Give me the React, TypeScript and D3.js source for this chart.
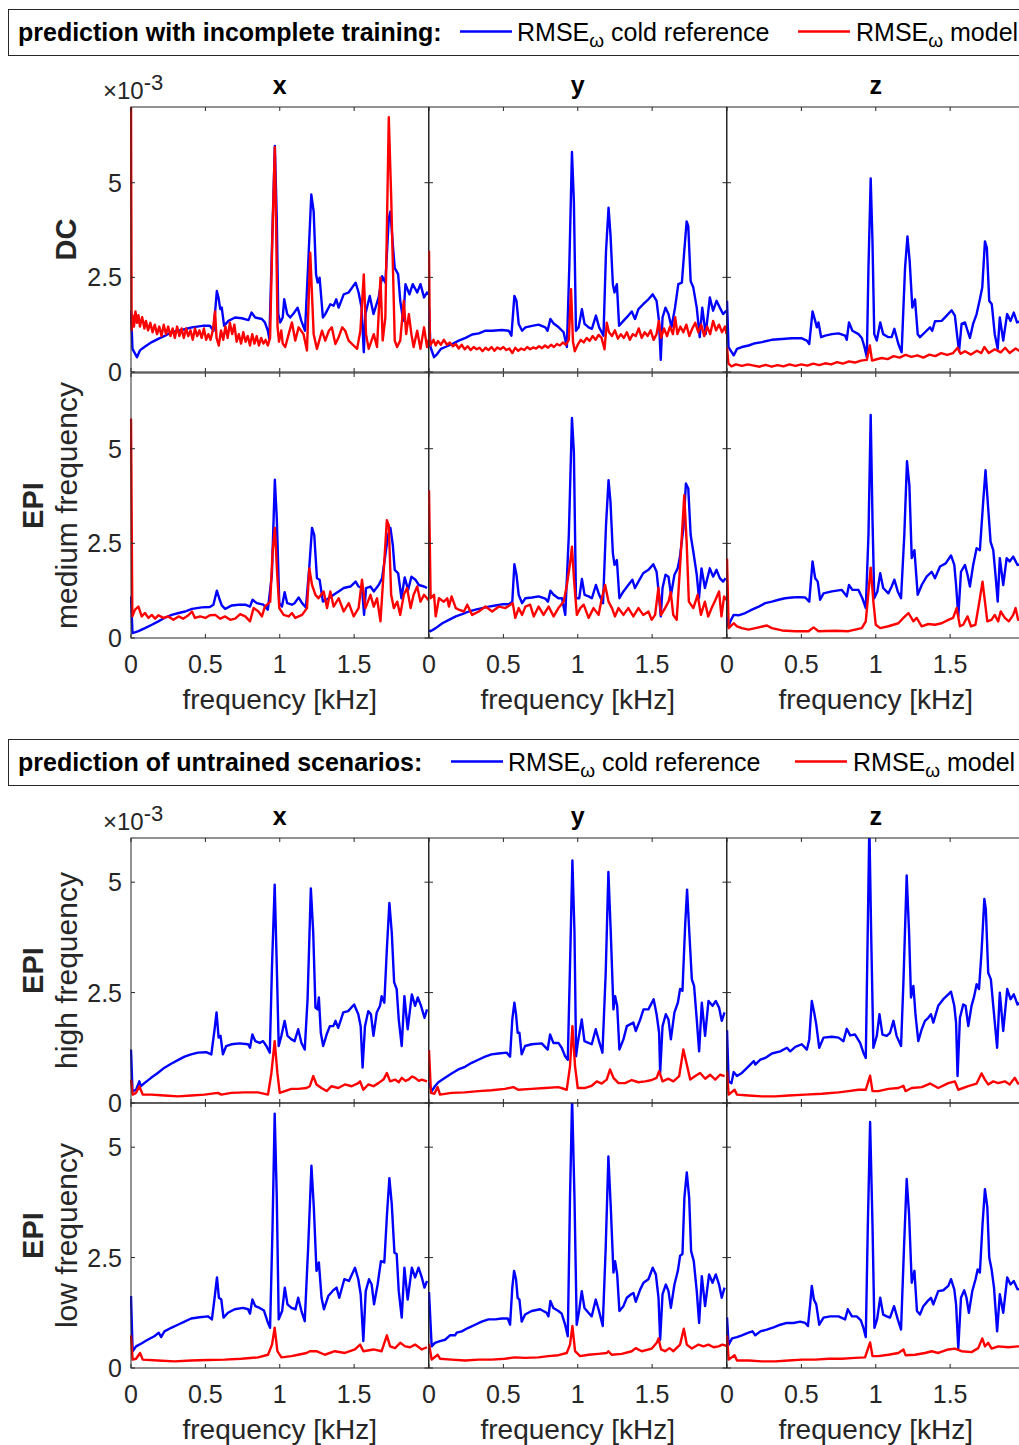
import React from "react";
import * as d3 from "d3";

type Pt = [number, number];

// ---------- labels ----------
const columnTitles = ["x", "y", "z"];
const rowLabelsBold = ["DC", "EPI", "EPI", "EPI"];
const rowLabelsSub = ["", "medium frequency", "high frequency", "low frequency"];
const freqTicks = [0, 0.5, 1, 1.5, 2];
const freqTickLabels = ["0", "0.5", "1", "1.5"];
const rmseTicks = [0, 2.5, 5];
const rmseTickLabels = ["0", "2.5", "5"];
const legendTitles = ["prediction with incomplete training:", "prediction of untrained scenarios:"];
const seriesNames = ["cold reference", "model"];
const xLabel = "frequency [kHz]";
const freqDomain: [number, number] = [0, 2];
const rmseMaxTop = 7; // x10^-3
const rmseMaxBottom = 6; // x10^-3

// ---------- data (RMSE in units of 1e-3, frequency in kHz) ----------
// DC, x
const dcXCold: Pt[] = [[0,1.62],[0.01,0.61],[0.04,0.39],[0.06,0.57],[0.09,0.66],[0.14,0.79],[0.18,0.87],[0.23,0.96],[0.27,1.05],[0.34,1.11],[0.41,1.18],[0.48,1.22],[0.53,1.22],[0.555,1.09],[0.577,2.14],[0.588,1.97],[0.6,1.66],[0.61,1.7],[0.626,1.22],[0.655,1.35],[0.7,1.44],[0.745,1.42],[0.79,1.37],[0.81,1.57],[0.835,1.44],[0.88,1.4],[0.9,1.31],[0.92,1.09],[0.93,0.87],[0.947,3.19],[0.967,5.97],[0.98,4.06],[0.99,1.53],[1.003,1.31],[1.02,1.44],[1.03,1.92],[1.05,1.53],[1.07,1.44],[1.09,1.53],[1.12,1.7],[1.145,1.35],[1.17,1.09],[1.19,2.75],[1.212,4.69],[1.228,4.24],[1.244,2.58],[1.255,2.36],[1.268,2.49],[1.29,1.44],[1.306,1.53],[1.34,1.79],[1.362,1.75],[1.38,1.92],[1.396,1.7],[1.43,2.05],[1.463,2.1],[1.51,2.36],[1.53,2.1],[1.55,1.7],[1.565,0.52],[1.576,1.53],[1.605,2.01],[1.63,1.53],[1.665,1.97],[1.688,2.53],[1.71,2.36],[1.733,4.06],[1.744,4.24],[1.76,3.37],[1.773,2.75],[1.796,2.58],[1.81,1.88],[1.83,1.35],[1.845,2.32],[1.872,2.05],[1.894,2.32],[1.924,2.1],[1.946,2.32],[1.97,1.97],[1.99,2.1],[2.0,2.05]];
const dcXModel: Pt[] = [[0,7.3],[0.004,1.1],[0.01,1.5],[0.02,1.2],[0.03,1.6],[0.04,1.3],[0.05,1.5],[0.06,1.2],[0.075,1.45],[0.09,1.15],[0.1,1.35],[0.115,1.1],[0.13,1.3],[0.145,1.05],[0.16,1.25],[0.175,1.0],[0.19,1.2],[0.205,0.95],[0.22,1.25],[0.235,1.0],[0.25,1.2],[0.265,0.95],[0.28,1.15],[0.295,0.9],[0.31,1.2],[0.325,0.95],[0.34,1.15],[0.355,0.9],[0.37,1.15],[0.385,0.95],[0.4,1.1],[0.415,0.85],[0.43,1.15],[0.445,0.95],[0.46,1.1],[0.475,0.9],[0.49,1.15],[0.505,0.85],[0.52,1.0],[0.535,0.85],[0.55,1.1],[0.565,1.6],[0.575,0.9],[0.59,0.7],[0.605,1.1],[0.62,0.85],[0.635,1.2],[0.65,0.9],[0.665,1.3],[0.68,1.0],[0.695,1.25],[0.71,0.8],[0.725,1.0],[0.74,0.75],[0.755,1.05],[0.77,0.8],[0.785,0.95],[0.8,0.7],[0.815,1.0],[0.83,0.75],[0.845,0.95],[0.86,0.7],[0.875,0.9],[0.89,0.75],[0.905,0.85],[0.92,0.7],[0.935,0.9],[0.95,3.5],[0.967,5.94],[0.975,4.0],[0.985,1.2],[0.995,0.8],[1.01,1.1],[1.02,0.75],[1.037,0.66],[1.06,1.0],[1.082,1.31],[1.104,0.83],[1.127,1.18],[1.16,1.0],[1.183,0.57],[1.205,3.15],[1.228,1.0],[1.25,0.61],[1.284,1.09],[1.306,0.83],[1.33,1.09],[1.35,1.18],[1.374,0.74],[1.396,0.92],[1.42,1.18],[1.44,1.09],[1.463,0.83],[1.486,0.74],[1.52,0.61],[1.542,1.09],[1.565,2.58],[1.58,1.0],[1.598,0.61],[1.632,1.0],[1.654,0.66],[1.677,2.49],[1.692,0.83],[1.71,1.44],[1.733,6.73],[1.75,4.5],[1.773,0.83],[1.789,0.66],[1.81,0.83],[1.834,1.88],[1.85,1.0],[1.868,1.53],[1.885,1.0],[1.9,0.66],[1.924,1.09],[1.946,0.61],[1.97,1.18],[1.99,0.66],[2.0,0.85]];

// DC, y
const dcYCold: Pt[] = [[0,1.7],[0.01,0.66],[0.034,0.39],[0.056,0.48],[0.08,0.61],[0.11,0.66],[0.156,0.74],[0.2,0.83],[0.246,0.9],[0.29,0.99],[0.335,1.02],[0.38,1.09],[0.425,1.09],[0.49,1.11],[0.536,1.09],[0.554,0.96],[0.574,2.01],[0.588,1.88],[0.603,1.27],[0.626,1.09],[0.648,1.18],[0.693,1.22],[0.737,1.25],[0.782,1.18],[0.797,1.09],[0.816,1.4],[0.838,1.28],[0.872,1.18],[0.905,1.05],[0.927,0.66],[0.943,2.75],[0.961,5.81],[0.974,4.5],[0.988,1.09],[1.006,1.18],[1.028,1.66],[1.046,1.27],[1.073,1.18],[1.095,1.14],[1.122,1.49],[1.144,1.18],[1.173,0.96],[1.19,3.19],[1.207,4.34],[1.22,3.63],[1.236,2.32],[1.247,2.1],[1.263,2.32],[1.278,1.22],[1.307,1.35],[1.34,1.49],[1.363,1.6],[1.385,1.4],[1.408,1.66],[1.44,1.79],[1.475,1.92],[1.504,2.05],[1.53,1.88],[1.546,1.35],[1.558,0.32],[1.57,1.44],[1.59,1.7],[1.61,1.53],[1.63,1.18],[1.654,1.7],[1.676,2.32],[1.7,2.36],[1.716,3.19],[1.732,3.98],[1.743,3.85],[1.759,2.4],[1.777,2.23],[1.8,1.7],[1.82,0.92],[1.837,1.7],[1.86,1.0],[1.888,1.97],[1.91,1.62],[1.933,1.88],[1.955,1.7],[1.977,1.53],[2.0,1.62]];
const dcYModel: Pt[] = [[0,3.2],[0.006,0.7],[0.015,0.75],[0.03,0.85],[0.045,0.7],[0.06,0.82],[0.08,0.72],[0.1,0.85],[0.12,0.72],[0.14,0.78],[0.16,0.68],[0.18,0.74],[0.2,0.62],[0.22,0.72],[0.24,0.6],[0.26,0.68],[0.28,0.58],[0.3,0.66],[0.32,0.6],[0.34,0.64],[0.36,0.55],[0.38,0.64],[0.4,0.58],[0.42,0.66],[0.44,0.56],[0.46,0.65],[0.48,0.6],[0.5,0.66],[0.52,0.58],[0.54,0.62],[0.56,0.5],[0.58,0.64],[0.6,0.56],[0.62,0.62],[0.64,0.58],[0.66,0.66],[0.68,0.6],[0.7,0.65],[0.72,0.62],[0.74,0.68],[0.76,0.63],[0.78,0.7],[0.8,0.64],[0.82,0.72],[0.84,0.66],[0.86,0.74],[0.88,0.7],[0.9,0.78],[0.92,0.72],[0.94,0.85],[0.955,2.19],[0.968,0.8],[0.98,0.55],[1.0,0.72],[1.02,0.85],[1.04,0.78],[1.06,0.9],[1.08,0.82],[1.1,0.95],[1.12,0.85],[1.14,0.98],[1.16,0.9],[1.18,0.6],[1.195,1.3],[1.21,1.05],[1.23,0.95],[1.25,1.1],[1.27,0.88],[1.29,1.0],[1.31,0.9],[1.33,1.05],[1.35,0.85],[1.37,1.0],[1.39,0.95],[1.41,1.15],[1.43,0.9],[1.45,1.05],[1.47,0.95],[1.49,1.1],[1.51,0.85],[1.53,1.0],[1.545,1.35],[1.56,0.9],[1.58,1.15],[1.6,0.95],[1.62,1.2],[1.64,1.0],[1.655,1.45],[1.67,1.0],[1.69,1.2],[1.71,1.05],[1.73,1.25],[1.75,0.95],[1.77,1.15],[1.79,1.3],[1.81,1.05],[1.83,1.25],[1.85,0.95],[1.87,1.2],[1.89,1.0],[1.91,1.35],[1.93,1.1],[1.95,1.25],[1.97,1.05],[1.99,1.2],[2.0,1.0]];

// DC, z
const dcZCold: Pt[] = [[0,1.88],[0.01,0.66],[0.045,0.44],[0.067,0.61],[0.1,0.66],[0.145,0.7],[0.19,0.76],[0.235,0.79],[0.3,0.85],[0.37,0.87],[0.436,0.89],[0.503,0.89],[0.537,0.83],[0.553,0.74],[0.575,1.6],[0.593,1.35],[0.604,1.18],[0.615,1.31],[0.633,0.92],[0.66,0.96],[0.705,1.0],[0.75,1.02],[0.794,0.96],[0.805,0.85],[0.82,1.31],[0.843,1.09],[0.884,1.0],[0.906,0.9],[0.924,0.66],[0.94,0.39],[0.951,2.75],[0.966,5.11],[0.978,3.45],[0.99,1.0],[1.007,0.83],[1.03,1.31],[1.05,1.0],[1.085,0.92],[1.107,0.92],[1.125,1.14],[1.152,0.74],[1.174,0.52],[1.197,2.75],[1.213,3.58],[1.228,2.93],[1.246,1.7],[1.264,1.92],[1.282,1.0],[1.298,0.92],[1.331,1.05],[1.365,1.18],[1.38,1.09],[1.398,1.34],[1.443,1.35],[1.477,1.49],[1.51,1.63],[1.532,1.49],[1.546,1.0],[1.56,0.55],[1.577,1.27],[1.6,1.31],[1.617,1.09],[1.633,0.9],[1.655,1.28],[1.678,1.53],[1.7,1.92],[1.716,2.23],[1.734,3.45],[1.747,3.28],[1.763,1.88],[1.78,1.79],[1.8,1.0],[1.82,0.61],[1.834,1.44],[1.857,0.83],[1.883,1.53],[1.906,1.35],[1.928,1.57],[1.95,1.31],[1.98,1.35],[2.0,1.4]];
const dcZModel: Pt[] = [[0,0.65],[0.01,0.22],[0.03,0.15],[0.06,0.2],[0.1,0.16],[0.14,0.2],[0.18,0.17],[0.22,0.14],[0.26,0.19],[0.3,0.14],[0.34,0.18],[0.38,0.15],[0.42,0.2],[0.46,0.16],[0.5,0.2],[0.54,0.17],[0.58,0.22],[0.62,0.18],[0.66,0.23],[0.7,0.2],[0.74,0.26],[0.78,0.22],[0.82,0.28],[0.86,0.25],[0.9,0.3],[0.94,0.32],[0.96,0.7],[0.975,0.3],[1.0,0.33],[1.04,0.37],[1.08,0.34],[1.12,0.42],[1.16,0.38],[1.2,0.45],[1.24,0.4],[1.28,0.44],[1.32,0.38],[1.36,0.46],[1.4,0.42],[1.44,0.5],[1.48,0.45],[1.52,0.5],[1.55,0.64],[1.57,0.48],[1.6,0.55],[1.64,0.46],[1.68,0.56],[1.71,0.5],[1.73,0.66],[1.76,0.5],[1.8,0.6],[1.84,0.52],[1.87,0.64],[1.9,0.5],[1.94,0.62],[1.97,0.55],[2.0,0.6]];

// EPI medium frequency, x
const epiMedXCold: Pt[] = [[0,1.1],[0.01,0.13],[0.05,0.18],[0.094,0.26],[0.14,0.35],[0.184,0.44],[0.23,0.54],[0.274,0.61],[0.32,0.66],[0.364,0.7],[0.41,0.77],[0.476,0.81],[0.53,0.82],[0.554,0.88],[0.577,1.25],[0.593,1.05],[0.61,0.86],[0.633,0.77],[0.678,0.86],[0.723,0.88],[0.768,0.88],[0.8,0.83],[0.817,1.01],[0.846,0.92],[0.89,0.88],[0.92,0.75],[0.947,1.67],[0.967,4.18],[0.98,3.16],[0.997,0.92],[1.015,0.83],[1.033,1.21],[1.05,0.92],[1.082,0.88],[1.1,0.92],[1.127,1.07],[1.15,0.92],[1.176,0.81],[1.198,1.84],[1.217,2.91],[1.232,2.72],[1.25,1.58],[1.268,1.54],[1.29,0.96],[1.33,1.05],[1.362,1.14],[1.396,1.23],[1.43,1.32],[1.475,1.36],[1.51,1.49],[1.53,1.36],[1.553,1.32],[1.567,0.61],[1.58,1.32],[1.61,1.36],[1.632,1.23],[1.665,1.4],[1.688,1.58],[1.71,2.19],[1.728,2.72],[1.744,2.91],[1.76,2.46],[1.773,1.8],[1.796,1.71],[1.818,1.05],[1.84,1.6],[1.863,1.27],[1.885,1.62],[1.912,1.54],[1.935,1.4],[1.97,1.36],[1.99,1.32]];
const epiMedXModel: Pt[] = [[0,5.8],[0.009,0.57],[0.027,0.75],[0.05,0.83],[0.072,0.57],[0.094,0.66],[0.117,0.53],[0.14,0.61],[0.162,0.51],[0.184,0.6],[0.218,0.53],[0.25,0.57],[0.285,0.48],[0.32,0.57],[0.35,0.51],[0.386,0.6],[0.41,0.7],[0.43,0.53],[0.465,0.57],[0.5,0.53],[0.53,0.6],[0.566,0.61],[0.6,0.51],[0.633,0.57],[0.667,0.48],[0.7,0.51],[0.734,0.63],[0.768,0.57],[0.8,0.44],[0.824,0.79],[0.857,0.7],[0.88,0.57],[0.9,0.83],[0.936,0.96],[0.952,2.28],[0.967,2.91],[0.983,1.67],[0.997,0.79],[1.026,0.61],[1.06,0.57],[1.082,0.66],[1.104,0.53],[1.15,0.61],[1.183,0.79],[1.199,1.84],[1.217,1.4],[1.24,1.14],[1.26,1.05],[1.295,1.23],[1.318,0.79],[1.34,1.23],[1.362,0.83],[1.396,1.05],[1.43,0.7],[1.464,0.92],[1.497,0.57],[1.53,0.79],[1.553,1.54],[1.576,0.79],[1.61,1.14],[1.632,0.83],[1.654,1.05],[1.677,0.44],[1.7,1.84],[1.72,3.11],[1.733,2.98],[1.749,1.14],[1.767,0.79],[1.79,0.96],[1.81,0.61],[1.834,1.14],[1.856,1.32],[1.88,0.79],[1.9,1.14],[1.924,1.36],[1.946,0.96],[1.97,1.14],[1.99,1.05],[2.0,1.0]];

// EPI medium frequency, y
const epiMedYCold: Pt[] = [[0,0.2],[0.01,0.18],[0.045,0.26],[0.09,0.39],[0.134,0.48],[0.18,0.57],[0.223,0.63],[0.268,0.7],[0.313,0.75],[0.357,0.79],[0.402,0.83],[0.447,0.86],[0.49,0.89],[0.536,0.89],[0.56,0.96],[0.574,1.95],[0.588,1.67],[0.603,1.14],[0.626,0.92],[0.648,1.05],[0.693,1.07],[0.737,1.1],[0.782,1.04],[0.8,0.96],[0.816,1.25],[0.838,1.14],[0.87,1.05],[0.894,1.05],[0.916,0.61],[0.94,2.72],[0.961,5.81],[0.974,4.91],[0.988,1.05],[1.01,1.05],[1.028,1.56],[1.046,1.14],[1.073,1.1],[1.095,1.05],[1.122,1.4],[1.144,1.14],[1.17,0.92],[1.19,2.98],[1.207,4.17],[1.22,3.6],[1.236,2.24],[1.247,1.93],[1.263,2.06],[1.28,1.05],[1.307,1.23],[1.34,1.4],[1.367,1.54],[1.385,1.32],[1.408,1.49],[1.44,1.71],[1.475,1.8],[1.508,1.95],[1.53,1.75],[1.546,1.14],[1.558,0.57],[1.57,1.32],[1.59,1.67],[1.61,1.62],[1.627,1.14],[1.65,1.67],[1.672,1.84],[1.687,2.15],[1.71,2.89],[1.727,4.08],[1.743,3.95],[1.759,2.72],[1.777,2.28],[1.8,1.67],[1.815,1.05],[1.832,1.84],[1.855,1.32],[1.888,1.84],[1.91,1.62],[1.933,1.8],[1.955,1.58],[1.977,1.49],[1.994,1.58]];
const epiMedYModel: Pt[] = [[0,3.9],[0.011,1.05],[0.034,1.14],[0.045,0.57],[0.067,1.05],[0.1,0.96],[0.123,1.05],[0.134,0.83],[0.152,1.1],[0.18,0.79],[0.2,0.75],[0.235,0.7],[0.257,0.88],[0.29,0.61],[0.335,0.7],[0.38,0.83],[0.425,0.7],[0.47,0.83],[0.514,0.79],[0.563,0.92],[0.58,0.53],[0.603,0.79],[0.626,0.61],[0.648,0.83],[0.68,0.88],[0.704,0.57],[0.737,0.83],[0.77,0.61],[0.804,0.83],[0.838,0.57],[0.87,0.79],[0.905,0.96],[0.927,1.4],[0.95,2.02],[0.961,2.41],[0.976,1.49],[0.994,0.61],[1.017,0.79],[1.04,0.88],[1.073,0.53],[1.106,0.79],[1.14,0.61],[1.162,1.05],[1.184,1.4],[1.207,0.96],[1.23,0.79],[1.25,0.57],[1.274,0.79],[1.307,0.61],[1.34,0.79],[1.374,0.57],[1.408,0.79],[1.44,0.61],[1.475,0.7],[1.497,0.48],[1.52,0.61],[1.542,1.32],[1.56,0.61],[1.587,0.79],[1.61,0.96],[1.625,1.21],[1.642,0.61],[1.665,0.48],[1.687,1.84],[1.716,3.77],[1.732,2.54],[1.747,0.96],[1.777,0.79],[1.806,1.14],[1.828,0.61],[1.855,0.96],[1.877,0.57],[1.9,0.79],[1.92,0.96],[1.95,1.23],[1.966,0.57],[1.984,1.1],[2.0,1.0]];

// EPI medium frequency, z
const epiMedZCold: Pt[] = [[0,0.55],[0.01,0.3],[0.022,0.44],[0.045,0.61],[0.078,0.6],[0.123,0.66],[0.168,0.75],[0.213,0.83],[0.257,0.92],[0.302,0.96],[0.347,1.01],[0.39,1.05],[0.436,1.07],[0.48,1.08],[0.526,1.07],[0.553,0.96],[0.575,2.02],[0.593,1.58],[0.61,1.49],[0.626,1.01],[0.649,1.18],[0.705,1.23],[0.772,1.27],[0.805,1.1],[0.82,1.4],[0.843,1.27],[0.884,1.27],[0.91,1.05],[0.933,0.79],[0.951,2.72],[0.966,5.89],[0.978,3.16],[0.99,1.05],[1.011,1.23],[1.03,1.71],[1.05,1.32],[1.085,1.18],[1.107,1.36],[1.125,1.54],[1.148,1.23],[1.17,1.05],[1.192,2.72],[1.21,4.67],[1.226,4.04],[1.242,2.11],[1.26,2.32],[1.282,1.14],[1.309,1.4],[1.342,1.62],[1.376,1.75],[1.398,1.58],[1.432,1.89],[1.47,1.97],[1.506,2.18],[1.528,1.93],[1.54,1.4],[1.555,0.57],[1.573,1.75],[1.6,1.93],[1.617,1.67],[1.633,1.36],[1.655,1.93],[1.678,2.37],[1.7,2.32],[1.723,3.64],[1.738,4.43],[1.756,3.42],[1.772,2.54],[1.79,2.32],[1.805,1.67],[1.82,0.96],[1.834,2.11],[1.857,1.4],[1.88,2.11],[1.9,2.02],[1.924,2.15],[1.953,1.93],[1.98,1.95],[2.0,1.9]];
const epiMedZModel: Pt[] = [[0,2.1],[0.011,0.26],[0.045,0.39],[0.067,0.31],[0.1,0.26],[0.145,0.22],[0.19,0.26],[0.246,0.31],[0.268,0.33],[0.302,0.26],[0.37,0.2],[0.459,0.18],[0.548,0.18],[0.582,0.28],[0.615,0.18],[0.727,0.19],[0.817,0.18],[0.906,0.26],[0.933,0.44],[0.966,1.86],[0.984,0.96],[1.0,0.35],[1.03,0.26],[1.085,0.31],[1.152,0.39],[1.186,0.53],[1.22,0.66],[1.253,0.44],[1.275,0.53],[1.309,0.31],[1.353,0.37],[1.398,0.35],[1.443,0.39],[1.488,0.48],[1.52,0.53],[1.544,0.79],[1.566,0.31],[1.588,0.35],[1.617,0.57],[1.64,0.31],[1.67,0.35],[1.693,0.88],[1.718,1.49],[1.734,0.96],[1.75,0.44],[1.778,0.48],[1.8,0.61],[1.823,0.44],[1.84,0.7],[1.868,0.53],[1.895,0.44],[1.924,0.61],[1.94,0.79],[1.957,0.48],[2.0,0.55]];

// EPI high frequency, x
const epiHighXCold: Pt[] = [[0,1.21],[0.01,0.27],[0.034,0.3],[0.056,0.49],[0.067,0.38],[0.09,0.45],[0.135,0.57],[0.18,0.68],[0.225,0.8],[0.27,0.89],[0.315,0.97],[0.36,1.05],[0.404,1.1],[0.45,1.14],[0.506,1.15],[0.54,1.1],[0.562,1.67],[0.575,2.05],[0.589,1.48],[0.602,1.52],[0.618,1.1],[0.64,1.29],[0.674,1.33],[0.73,1.35],[0.787,1.33],[0.8,1.25],[0.816,1.55],[0.836,1.4],[0.865,1.36],[0.888,1.4],[0.91,1.29],[0.933,1.14],[0.948,3.11],[0.966,4.94],[0.98,3.11],[0.993,1.29],[1.011,1.52],[1.033,1.86],[1.052,1.52],[1.079,1.44],[1.1,1.4],[1.124,1.67],[1.146,1.36],[1.168,1.21],[1.187,2.35],[1.209,4.86],[1.225,3.86],[1.24,2.16],[1.254,2.12],[1.263,2.39],[1.276,1.59],[1.292,1.29],[1.315,1.55],[1.337,1.74],[1.36,1.74],[1.375,1.86],[1.393,1.7],[1.427,2.05],[1.46,2.08],[1.5,2.23],[1.528,2.01],[1.544,1.74],[1.557,0.8],[1.573,1.74],[1.595,2.08],[1.613,2.01],[1.63,1.52],[1.652,2.05],[1.674,2.2],[1.685,2.42],[1.703,2.27],[1.72,3.48],[1.737,4.53],[1.753,3.86],[1.769,2.73],[1.786,2.58],[1.8,1.89],[1.82,1.29],[1.838,2.42],[1.86,1.67],[1.888,2.46],[1.91,2.2],[1.928,2.39],[1.95,2.2],[1.973,1.93],[1.99,2.12]];
const epiHighXModel: Pt[] = [[0,0.53],[0.011,0.19],[0.034,0.23],[0.056,0.38],[0.079,0.19],[0.135,0.19],[0.225,0.17],[0.315,0.15],[0.404,0.17],[0.494,0.19],[0.584,0.23],[0.607,0.19],[0.674,0.23],[0.764,0.24],[0.854,0.24],[0.921,0.19],[0.944,0.68],[0.966,1.4],[0.984,0.68],[1.0,0.23],[1.034,0.27],[1.079,0.32],[1.124,0.32],[1.18,0.34],[1.202,0.38],[1.225,0.61],[1.247,0.42],[1.28,0.34],[1.315,0.27],[1.348,0.38],[1.393,0.34],[1.438,0.42],[1.483,0.38],[1.528,0.45],[1.54,0.49],[1.562,0.3],[1.595,0.42],[1.63,0.38],[1.663,0.45],[1.697,0.53],[1.72,0.68],[1.742,0.49],[1.775,0.53],[1.8,0.47],[1.82,0.57],[1.845,0.5],[1.865,0.53],[1.89,0.6],[1.91,0.57],[1.935,0.5],[1.955,0.53],[1.99,0.49]];

// EPI high frequency, y
const epiHighYCold: Pt[] = [[0,0.45],[0.018,0.27],[0.04,0.38],[0.063,0.47],[0.108,0.57],[0.152,0.67],[0.197,0.76],[0.242,0.82],[0.287,0.91],[0.332,0.98],[0.377,1.05],[0.42,1.1],[0.466,1.12],[0.522,1.14],[0.545,1.05],[0.56,1.89],[0.574,2.27],[0.585,2.01],[0.596,1.59],[0.608,1.59],[0.623,1.1],[0.646,1.29],[0.69,1.33],[0.758,1.35],[0.798,1.21],[0.814,1.55],[0.836,1.36],[0.87,1.36],[0.892,1.25],[0.915,1.06],[0.933,0.98],[0.948,3.11],[0.964,5.49],[0.978,3.86],[0.989,1.06],[1.0,1.36],[1.027,1.89],[1.045,1.4],[1.072,1.36],[1.094,1.33],[1.121,1.67],[1.143,1.4],[1.166,1.14],[1.188,2.95],[1.206,5.23],[1.222,3.86],[1.24,2.12],[1.251,2.42],[1.265,2.2],[1.28,1.21],[1.307,1.44],[1.33,1.74],[1.352,1.78],[1.374,1.82],[1.39,1.63],[1.42,1.89],[1.442,2.12],[1.475,2.12],[1.51,2.35],[1.53,2.01],[1.547,1.59],[1.554,0.68],[1.57,1.74],[1.592,2.01],[1.61,1.89],[1.626,1.44],[1.65,2.05],[1.673,2.27],[1.688,2.58],[1.704,2.54],[1.722,4.02],[1.735,4.83],[1.75,3.86],[1.767,2.8],[1.782,2.65],[1.8,1.89],[1.816,1.17],[1.834,2.27],[1.856,1.52],[1.879,2.31],[1.906,2.2],[1.928,2.31],[1.95,2.16],[1.968,1.86],[1.987,2.05]];
const epiHighYModel: Pt[] = [[0,1.2],[0.013,0.23],[0.036,0.21],[0.058,0.36],[0.074,0.19],[0.152,0.23],[0.242,0.24],[0.332,0.27],[0.42,0.29],[0.51,0.32],[0.567,0.36],[0.6,0.3],[0.69,0.32],[0.78,0.34],[0.87,0.36],[0.926,0.3],[0.948,0.83],[0.964,1.74],[0.982,0.83],[1.0,0.34],[1.05,0.34],[1.094,0.39],[1.128,0.49],[1.161,0.44],[1.195,0.53],[1.217,0.76],[1.24,0.57],[1.274,0.45],[1.318,0.45],[1.363,0.52],[1.408,0.47],[1.453,0.49],[1.498,0.52],[1.53,0.57],[1.547,0.72],[1.57,0.49],[1.61,0.55],[1.643,0.49],[1.682,0.61],[1.71,1.21],[1.733,0.87],[1.756,0.53],[1.79,0.61],[1.823,0.68],[1.857,0.55],[1.89,0.64],[1.924,0.53],[1.957,0.64],[1.987,0.61]];

// EPI high frequency, z
const epiHighZCold: Pt[] = [[0,1.65],[0.011,0.49],[0.03,0.45],[0.045,0.7],[0.067,0.61],[0.1,0.68],[0.145,0.83],[0.18,0.95],[0.19,0.87],[0.224,0.98],[0.257,1.02],[0.302,1.12],[0.358,1.17],[0.403,1.25],[0.425,1.17],[0.459,1.27],[0.503,1.33],[0.537,1.21],[0.553,1.44],[0.57,2.31],[0.586,2.05],[0.6,1.78],[0.62,1.25],[0.649,1.48],[0.705,1.5],[0.75,1.48],[0.783,1.4],[0.805,1.68],[0.828,1.53],[0.861,1.55],[0.895,1.36],[0.917,1.14],[0.933,1.02],[0.946,3.86],[0.957,6.3],[0.969,3.86],[0.984,1.25],[1.007,1.52],[1.025,2.01],[1.045,1.55],[1.074,1.52],[1.096,1.59],[1.119,1.86],[1.14,1.52],[1.17,1.29],[1.186,2.73],[1.208,5.15],[1.224,3.86],[1.237,2.39],[1.253,2.65],[1.268,1.97],[1.286,1.4],[1.309,1.67],[1.331,1.86],[1.353,1.93],[1.371,2.01],[1.387,1.82],[1.42,2.2],[1.454,2.35],[1.488,2.46],[1.506,2.52],[1.528,2.2],[1.54,1.82],[1.55,0.61],[1.566,1.93],[1.588,2.23],[1.604,2.2],[1.622,1.74],[1.644,2.2],[1.662,2.42],[1.678,2.69],[1.694,2.58],[1.711,3.41],[1.73,4.62],[1.74,4.39],[1.756,2.95],[1.774,2.8],[1.79,2.2],[1.816,1.25],[1.834,2.5],[1.857,1.63],[1.884,2.58],[1.906,2.35],[1.928,2.46],[1.953,2.23],[1.98,2.3],[2.0,2.2]];
const epiHighZModel: Pt[] = [[0,0.72],[0.011,0.19],[0.051,0.3],[0.067,0.19],[0.145,0.17],[0.235,0.15],[0.324,0.15],[0.414,0.17],[0.526,0.19],[0.638,0.21],[0.75,0.24],[0.817,0.27],[0.884,0.3],[0.933,0.3],[0.962,0.62],[0.978,0.27],[1.018,0.27],[1.085,0.32],[1.152,0.34],[1.186,0.39],[1.2,0.27],[1.242,0.34],[1.309,0.36],[1.365,0.44],[1.42,0.34],[1.488,0.45],[1.532,0.49],[1.555,0.3],[1.622,0.38],[1.678,0.44],[1.711,0.67],[1.734,0.53],[1.756,0.42],[1.79,0.49],[1.823,0.45],[1.868,0.49],[1.9,0.42],[1.935,0.57],[1.957,0.44],[2.0,0.5]];

// EPI low frequency, x
const epiLowXCold: Pt[] = [[0,1.63],[0.011,0.38],[0.034,0.49],[0.067,0.55],[0.112,0.64],[0.157,0.72],[0.187,0.8],[0.202,0.7],[0.225,0.83],[0.27,0.91],[0.315,0.98],[0.36,1.05],[0.404,1.12],[0.461,1.15],[0.517,1.17],[0.544,1.1],[0.562,1.59],[0.578,2.05],[0.591,1.59],[0.607,1.55],[0.622,1.14],[0.652,1.25],[0.697,1.33],[0.753,1.36],[0.787,1.33],[0.8,1.23],[0.816,1.55],[0.836,1.4],[0.865,1.36],[0.894,1.3],[0.917,1.06],[0.935,0.91],[0.951,3.11],[0.966,5.76],[0.98,3.86],[0.993,1.1],[1.016,1.29],[1.034,1.82],[1.052,1.44],[1.079,1.36],[1.106,1.33],[1.124,1.59],[1.146,1.29],[1.168,1.06],[1.191,2.73],[1.213,4.58],[1.229,3.64],[1.247,2.2],[1.263,2.39],[1.281,1.59],[1.297,1.33],[1.326,1.63],[1.36,1.76],[1.382,1.82],[1.4,1.59],[1.434,2.01],[1.465,1.97],[1.506,2.27],[1.528,2.01],[1.544,1.67],[1.562,0.61],[1.578,1.74],[1.6,2.01],[1.618,1.89],[1.634,1.44],[1.658,1.89],[1.68,2.42],[1.703,2.39],[1.721,3.48],[1.737,4.3],[1.753,3.71],[1.771,2.61],[1.786,2.58],[1.8,1.74],[1.82,1.14],[1.838,2.27],[1.86,1.55],[1.888,2.27],[1.91,2.05],[1.933,2.27],[1.955,2.05],[1.973,1.82],[1.99,1.97]];
const epiLowXModel: Pt[] = [[0,0.74],[0.011,0.19],[0.034,0.21],[0.061,0.34],[0.079,0.19],[0.18,0.17],[0.292,0.15],[0.404,0.17],[0.517,0.18],[0.629,0.19],[0.742,0.21],[0.854,0.24],[0.921,0.3],[0.948,0.53],[0.966,0.91],[0.984,0.38],[1.011,0.24],[1.079,0.27],[1.124,0.3],[1.18,0.34],[1.202,0.38],[1.247,0.38],[1.303,0.3],[1.37,0.38],[1.438,0.34],[1.506,0.42],[1.54,0.53],[1.562,0.38],[1.63,0.42],[1.685,0.38],[1.72,0.74],[1.742,0.49],[1.775,0.45],[1.81,0.57],[1.843,0.49],[1.876,0.47],[1.91,0.53],[1.955,0.42],[1.99,0.47]];

// EPI low frequency, y
const epiLowYCold: Pt[] = [[0,1.72],[0.018,0.49],[0.04,0.57],[0.074,0.61],[0.108,0.64],[0.141,0.74],[0.175,0.74],[0.186,0.8],[0.22,0.83],[0.265,0.91],[0.31,0.98],[0.354,1.05],[0.4,1.1],[0.444,1.1],[0.49,1.12],[0.53,1.12],[0.545,0.98],[0.56,1.82],[0.572,2.2],[0.585,2.01],[0.596,1.59],[0.608,1.55],[0.623,1.05],[0.646,1.21],[0.69,1.29],[0.747,1.33],[0.79,1.25],[0.803,1.17],[0.816,1.52],[0.836,1.36],[0.87,1.29],[0.892,1.23],[0.915,0.98],[0.933,0.72],[0.948,3.86],[0.962,6.1],[0.978,3.86],[0.993,0.98],[1.009,1.29],[1.027,1.74],[1.045,1.36],[1.072,1.25],[1.094,1.17],[1.121,1.55],[1.143,1.29],[1.168,0.95],[1.188,2.73],[1.206,4.79],[1.222,3.64],[1.24,2.16],[1.251,2.42],[1.265,2.12],[1.28,1.29],[1.307,1.4],[1.33,1.59],[1.359,1.67],[1.374,1.7],[1.39,1.5],[1.42,1.78],[1.442,1.93],[1.475,2.01],[1.504,2.27],[1.525,2.12],[1.543,1.59],[1.554,0.64],[1.57,1.67],[1.592,1.89],[1.61,1.74],[1.626,1.36],[1.65,1.89],[1.673,2.2],[1.688,2.54],[1.704,2.58],[1.717,3.86],[1.733,4.43],[1.749,3.86],[1.762,2.65],[1.78,2.42],[1.8,1.74],[1.816,1.02],[1.834,2.08],[1.856,1.4],[1.883,2.12],[1.906,1.93],[1.928,2.12],[1.95,1.89],[1.968,1.59],[1.987,1.82]];
const epiLowYModel: Pt[] = [[0,0.55],[0.018,0.19],[0.058,0.3],[0.074,0.21],[0.152,0.19],[0.242,0.17],[0.332,0.19],[0.42,0.19],[0.51,0.21],[0.578,0.24],[0.646,0.23],[0.735,0.24],[0.803,0.27],[0.87,0.29],[0.926,0.34],[0.948,0.53],[0.964,0.95],[0.982,0.38],[1.016,0.27],[1.072,0.3],[1.139,0.32],[1.195,0.34],[1.206,0.38],[1.228,0.3],[1.296,0.32],[1.363,0.38],[1.39,0.45],[1.43,0.38],[1.498,0.44],[1.531,0.57],[1.543,0.67],[1.56,0.42],[1.587,0.38],[1.617,0.45],[1.643,0.38],[1.688,0.53],[1.713,0.89],[1.733,0.53],[1.767,0.44],[1.812,0.53],[1.845,0.49],[1.879,0.53],[1.913,0.47],[1.946,0.49],[1.973,0.53],[2.0,0.5]];

// EPI low frequency, z
const epiLowZCold: Pt[] = [[0,1.15],[0.011,0.53],[0.034,0.67],[0.067,0.7],[0.1,0.74],[0.145,0.8],[0.172,0.83],[0.19,0.74],[0.224,0.83],[0.268,0.87],[0.313,0.92],[0.358,0.98],[0.403,1.02],[0.447,1.02],[0.492,1.05],[0.526,1.02],[0.544,0.95],[0.559,1.44],[0.57,1.86],[0.584,1.55],[0.6,1.44],[0.62,0.98],[0.649,1.14],[0.693,1.17],[0.75,1.17],[0.794,1.1],[0.812,1.33],[0.84,1.17],[0.872,1.17],[0.9,1.08],[0.917,0.91],[0.933,0.7],[0.946,3.11],[0.962,5.57],[0.978,3.26],[0.991,0.91],[1.009,1.1],[1.03,1.59],[1.05,1.21],[1.074,1.17],[1.096,1.14],[1.123,1.4],[1.148,1.1],[1.17,0.87],[1.19,2.73],[1.208,4.28],[1.224,3.48],[1.242,1.93],[1.26,2.2],[1.277,1.29],[1.297,1.21],[1.32,1.4],[1.35,1.52],[1.371,1.59],[1.387,1.44],[1.42,1.74],[1.454,1.76],[1.488,1.86],[1.506,2.01],[1.528,1.78],[1.54,1.44],[1.555,0.45],[1.573,1.59],[1.595,1.76],[1.61,1.59],[1.626,1.25],[1.649,1.74],[1.671,2.01],[1.685,2.23],[1.7,2.16],[1.718,3.26],[1.734,4.05],[1.75,3.64],[1.763,2.5],[1.779,2.23],[1.795,1.82],[1.816,0.83],[1.834,1.67],[1.857,1.25],[1.884,2.05],[1.906,1.89],[1.928,1.97],[1.953,1.78],[1.98,1.8],[2.0,1.75]];
const epiLowZModel: Pt[] = [[0,0.74],[0.011,0.19],[0.051,0.29],[0.067,0.17],[0.145,0.17],[0.235,0.15],[0.324,0.15],[0.414,0.17],[0.503,0.19],[0.593,0.19],[0.682,0.21],[0.772,0.21],[0.861,0.23],[0.928,0.24],[0.962,0.58],[0.978,0.27],[1.018,0.27],[1.085,0.3],[1.152,0.34],[1.186,0.42],[1.2,0.29],[1.264,0.3],[1.331,0.34],[1.376,0.38],[1.42,0.34],[1.488,0.42],[1.532,0.44],[1.577,0.38],[1.644,0.36],[1.689,0.45],[1.716,0.67],[1.734,0.49],[1.756,0.57],[1.779,0.44],[1.823,0.49],[1.89,0.47],[1.957,0.49],[2.0,0.48]];

// ---------- layout ----------
const W = 1019;
const H = 1445;
const COL_X = [131, 429, 727];
const PANEL_W = 297.5;
const ROWS = [
  { top: 107, bottom: 372, max: rmseMaxTop },
  { top: 373, bottom: 638, max: rmseMaxTop },
  { top: 838, bottom: 1103, max: rmseMaxBottom },
  { top: 1103, bottom: 1368, max: rmseMaxBottom },
];
const panelData: [Pt[], Pt[]][][] = [
  [[dcXCold, dcXModel], [dcYCold, dcYModel], [dcZCold, dcZModel]],
  [[epiMedXCold, epiMedXModel], [epiMedYCold, epiMedYModel], [epiMedZCold, epiMedZModel]],
  [[epiHighXCold, epiHighXModel], [epiHighYCold, epiHighYModel], [epiHighZCold, epiHighZModel]],
  [[epiLowXCold, epiLowXModel], [epiLowYCold, epiLowYModel], [epiLowZCold, epiLowZModel]],
];
const AX = "#262626";
const FONT = "'Liberation Sans', Arial, Helvetica, sans-serif";
const BLUE = "#0000ff";
const RED = "#ff0000";

function Panel({ r, c }: { r: number; c: number }) {
  const row = ROWS[r];
  const x0 = COL_X[c];
  const x = d3.scaleLinear().domain(freqDomain).range([x0, x0 + PANEL_W]);
  const y = d3.scaleLinear().domain([0, row.max]).range([row.bottom, row.top]);
  const line = d3.line<Pt>().x((d) => x(d[0])).y((d) => y(d[1]));
  const [cold, model] = panelData[r][c];
  const id = `clip-${r}-${c}`;
  const tl = 4;
  const showX = r === 1 || r === 3;
  return (
    <g>
      <clipPath id={id}>
        <rect x={x0 - 1} y={row.top} width={PANEL_W + 1} height={row.bottom - row.top + 1} />
      </clipPath>
      <g clipPath={`url(#${id})`}>
        <path d={line(cold) || ""} fill="none" stroke={BLUE} strokeWidth={2.4} strokeLinejoin="round" />
        <path d={line(model) || ""} fill="none" stroke={RED} strokeWidth={2.4} strokeLinejoin="round" />
      </g>
      <rect x={x0} y={row.top} width={PANEL_W} height={row.bottom - row.top} fill="none" stroke={AX} strokeWidth={1} />
      {freqTicks.map((t) => (
        <g key={`xt${t}`}>
          <line x1={x(t)} x2={x(t)} y1={row.bottom} y2={row.bottom - tl} stroke={AX} />
          <line x1={x(t)} x2={x(t)} y1={row.top} y2={row.top + tl} stroke={AX} />
        </g>
      ))}
      {rmseTicks.map((t) => (
        <g key={`yt${t}`}>
          <line x1={x0} x2={x0 + tl} y1={y(t)} y2={y(t)} stroke={AX} />
          <line x1={x0 + PANEL_W} x2={x0 + PANEL_W - tl} y1={y(t)} y2={y(t)} stroke={AX} />
        </g>
      ))}
      {showX &&
        freqTickLabels.map((lab, i) => (
          <text key={`xl${i}`} x={x(freqTicks[i])} y={row.bottom + 35} textAnchor="middle" fontSize={25} fill={AX}>
            {lab}
          </text>
        ))}
      {showX && (
        <text x={x0 + PANEL_W / 2} y={row.bottom + 71} textAnchor="middle" fontSize={28} fill={AX}>
          {xLabel}
        </text>
      )}
      {c === 0 &&
        rmseTickLabels.map((lab, i) => (
          <text key={`yl${i}`} x={x0 - 9} y={y(rmseTicks[i]) + 9} textAnchor="end" fontSize={25} fill={AX}>
            {lab}
          </text>
        ))}
    </g>
  );
}

function Legend({ top, title, blueX, redX }: { top: number; title: string; blueX: number; redX: number }) {
  const cy = top + 22;
  return (
    <g>
      <rect x={8.5} y={top} width={1100} height={46} fill="#fff" stroke={AX} strokeWidth={1} />
      <text x={18} y={cy + 9} fontSize={25} fontWeight="bold" fill="#000">
        {title}
      </text>
      <line x1={blueX} x2={blueX + 52} y1={cy} y2={cy} stroke={BLUE} strokeWidth={2.4} />
      <text x={blueX + 57} y={cy + 9} fontSize={25} fill="#000">
        RMSE<tspan dy={6} fontSize={19}>ω</tspan>
        <tspan dy={-6}>{" " + seriesNames[0]}</tspan>
      </text>
      <line x1={redX} x2={redX + 52} y1={cy} y2={cy} stroke={RED} strokeWidth={2.4} />
      <text x={redX + 58} y={cy + 9} fontSize={25} fill="#000">
        RMSE<tspan dy={6} fontSize={19}>ω</tspan>
        <tspan dy={-6}>{" " + seriesNames[1]}</tspan>
      </text>
    </g>
  );
}

function RowLabel({ r }: { r: number }) {
  const row = ROWS[r];
  const cy = (row.top + row.bottom) / 2;
  const sub = rowLabelsSub[r];
  return (
    <g>
      {sub ? (
        <>
          <text transform={`translate(33,${cy}) rotate(-90)`} dy="0.36em" textAnchor="middle" fontSize={29} fontWeight="bold" fill={AX}>
            {rowLabelsBold[r]}
          </text>
          <text transform={`translate(67,${cy}) rotate(-90)`} dy="0.33em" textAnchor="middle" fontSize={30} fill={AX}>
            {sub}
          </text>
        </>
      ) : (
        <text transform={`translate(66,${cy}) rotate(-90)`} dy="0.36em" textAnchor="middle" fontSize={29} fontWeight="bold" fill={AX}>
          {rowLabelsBold[r]}
        </text>
      )}
    </g>
  );
}

export default function App() {
  const gridTops = [ROWS[0].top, ROWS[2].top];
  return (
    <svg
      width={W}
      height={H}
      viewBox={`0 0 ${W} ${H}`}
      style={{ position: "absolute", left: 0, top: 0, background: "#fff", fontFamily: FONT }}
    >
      <rect x={0} y={0} width={W} height={H} fill="#fff" />
      <Legend top={9.5} title={legendTitles[0]} blueX={460} redX={798} />
      <Legend top={739.5} title={legendTitles[1]} blueX={451} redX={795} />
      {gridTops.map((t, gi) => (
        <g key={`g${gi}`}>
          {columnTitles.map((ct, c) => (
            <text key={ct} x={COL_X[c] + PANEL_W / 2} y={t - 13} textAnchor="middle" fontSize={25} fontWeight="bold" fill="#000">
              {ct}
            </text>
          ))}
          <text x={103} y={t - 8} fontSize={24} fill={AX}>
            ×10<tspan dy={-9} fontSize={22}>-3</tspan>
          </text>
        </g>
      ))}
      {ROWS.map((_, r) => (
        <g key={`r${r}`}>
          {COL_X.map((__, c) => (
            <Panel key={`p${r}${c}`} r={r} c={c} />
          ))}
          <RowLabel r={r} />
        </g>
      ))}
    </svg>
  );
}
